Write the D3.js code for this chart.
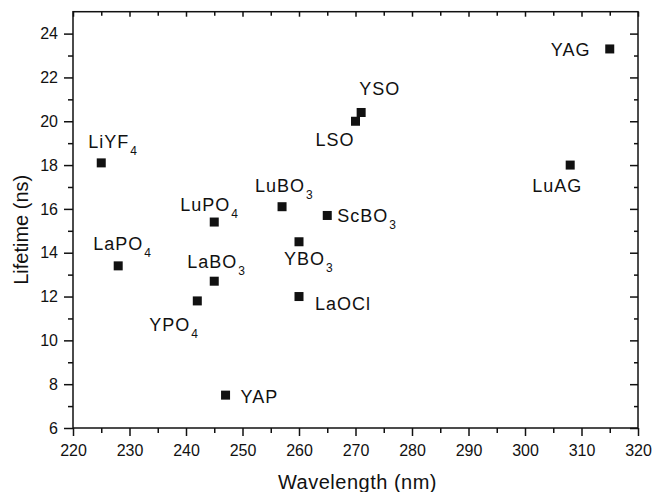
<!DOCTYPE html>
<html>
<head>
<meta charset="utf-8">
<script src="https://cdn.jsdelivr.net/npm/d3@7"></script>
<style>
  html, body { margin: 0; padding: 0; background: #fff; }
  svg { display: block; font-family: "Liberation Sans", Arial, sans-serif; }
</style>
</head>
<body>
<svg id="chart" width="652" height="492"></svg>
<script>
// Scintillator host materials: emission wavelength vs. decay lifetime
const materials  = ["YAG", "LuAG", "LiYF", "LaPO", "LuPO", "LaBO", "YPO", "LuBO", "ScBO", "YBO", "LaOCl", "LSO", "YSO", "YAP"];
const subscripts = ["",    "",     "4",    "4",    "4",    "3",    "4",   "3",    "3",    "3",   "",      "",    "",    ""];
const wavelength = [315,   308,    225,    228,    245,    245,    242,   257,    265,    260,   260,     270,   271,   247];
const lifetime   = [23.3,  18.0,   18.1,   13.4,   15.4,   12.7,   11.8,  16.1,   15.7,   14.5,  12.0,    20.0,  20.4,  7.5];

const xMajorTicks = [220, 230, 240, 250, 260, 270, 280, 290, 300, 310, 320];
const yMajorTicks = [6, 8, 10, 12, 14, 16, 18, 20, 22, 24];
const xTitle = "Wavelength (nm)";
const yTitle = "Lifetime (ns)";

// label placement relative to each marker (text start, baseline)
const labelOffsets = [
  [-59, 7], [-38, 27], [-13, -15], [-25, -16], [-34, -11], [-27, -13], [-48, 30],
  [-27, -15], [10, 7], [-15, 23], [16, 13], [-40, 25], [-2, -17], [15, 8]
];

const svg = d3.select("#chart");
const plotLeft = 73, plotRight = 638, plotTop = 11.7, plotBottom = 428;

const x = d3.scaleLinear().domain([220, 320]).range([plotLeft, plotRight]);
const y = d3.scaleLinear().domain([6, 25]).range([plotBottom, plotTop]);

const xMinor = d3.range(225, 320, 10);
const yMinor = d3.range(7, 25, 2);
const ink = "#111";

// frame
svg.append("rect")
  .attr("x", plotLeft).attr("y", plotTop)
  .attr("width", plotRight - plotLeft).attr("height", plotBottom - plotTop)
  .attr("fill", "none").attr("stroke", ink).attr("stroke-width", 1.5);

function tickGroup(axisFn, scale, values, size, fmt, tx, ty) {
  const g = svg.append("g").attr("transform", `translate(${tx},${ty})`)
    .call(axisFn(scale).tickValues(values).tickSize(size).tickSizeOuter(0).tickFormat(fmt));
  g.select(".domain").remove();
  g.selectAll(".tick line").attr("stroke", ink).attr("stroke-width", 1.5);
  return g;
}

// bottom axis: outward ticks with labels
const gx = tickGroup(d3.axisBottom, x, xMajorTicks, 8, d3.format("d"), 0, plotBottom);
gx.selectAll(".tick text").attr("font-size", 16).attr("fill", ink).attr("y", 17).attr("dy", "0.71em");
tickGroup(d3.axisBottom, x, xMinor, 5, () => "", 0, plotBottom);

// left axis: outward ticks with labels
const gy = tickGroup(d3.axisLeft, y, yMajorTicks, 9, d3.format("d"), plotLeft, 0);
gy.selectAll(".tick text").attr("font-size", 16).attr("fill", ink).attr("x", -15);
tickGroup(d3.axisLeft, y, yMinor, 5, () => "", plotLeft, 0);

// top axis: inward ticks only
tickGroup(d3.axisTop, x, xMajorTicks, -5, () => "", 0, plotTop);
tickGroup(d3.axisTop, x, xMinor, -4, () => "", 0, plotTop);

// right axis: inward ticks only
tickGroup(d3.axisRight, y, yMajorTicks, -8, () => "", plotRight, 0);
tickGroup(d3.axisRight, y, yMinor, -4, () => "", plotRight, 0);

// axis titles
svg.append("text")
  .attr("x", (plotLeft + plotRight) / 2 + 2).attr("y", 489)
  .attr("text-anchor", "middle").attr("font-size", 20)
  .attr("letter-spacing", 0.5).attr("fill", ink)
  .text(xTitle);

svg.append("text")
  .attr("transform", `translate(28,${(plotTop + plotBottom) / 2 + 10}) rotate(-90)`)
  .attr("text-anchor", "middle").attr("font-size", 20).attr("fill", ink)
  .text(yTitle);

// markers
const pts = d3.range(materials.length);
svg.append("g").selectAll("rect")
  .data(pts).join("rect")
  .attr("x", i => x(wavelength[i]) - 4.5)
  .attr("y", i => y(lifetime[i]) - 4.5)
  .attr("width", 9).attr("height", 9)
  .attr("fill", ink);

// labels with chemical subscripts
const labels = svg.append("g").selectAll("text")
  .data(pts).join("text")
  .attr("x", i => x(wavelength[i]) + labelOffsets[i][0])
  .attr("y", i => y(lifetime[i]) + labelOffsets[i][1])
  .attr("font-size", 18).attr("letter-spacing", 1).attr("fill", ink);

labels.append("tspan").text(i => materials[i]);
labels.filter(i => subscripts[i] !== "")
  .append("tspan")
  .attr("dx", 1).attr("dy", 7)
  .attr("font-size", 12).attr("letter-spacing", 0)
  .text(i => subscripts[i]);
</script>
</body>
</html>
